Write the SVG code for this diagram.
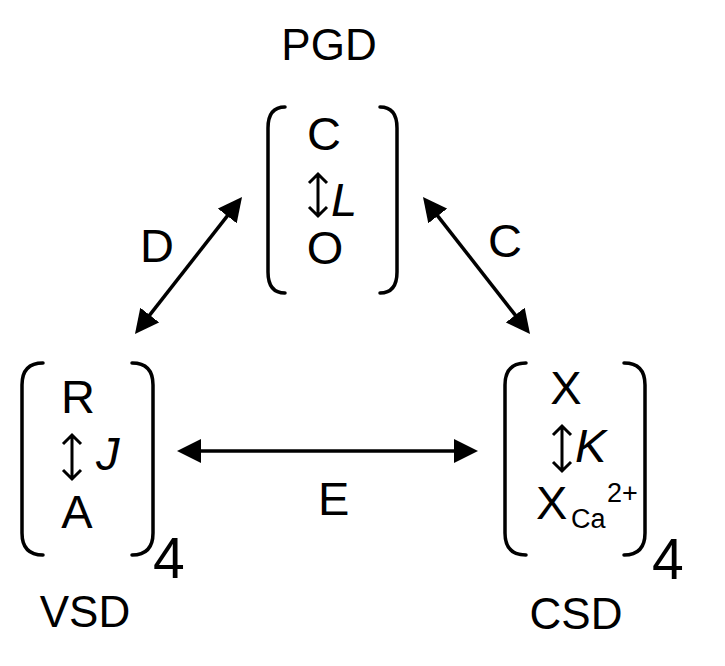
<svg xmlns="http://www.w3.org/2000/svg" width="725" height="666" viewBox="0 0 725 666">
<style>
text{font-family:"Liberation Sans",Arial,sans-serif;fill:#000}
.t{font-size:47px}
.lb{font-size:44px}
.it{font-size:47px;font-style:italic}
.n{font-size:57px}
.s{font-size:27px}
.br{fill:none;stroke:#000;stroke-width:3.5;stroke-linecap:round}
.ud{fill:none;stroke:#000;stroke-width:3;stroke-linejoin:miter}
.con{stroke:#000;stroke-width:3.5;fill:none;marker-start:url(#ah);marker-end:url(#ah)}
</style>
<defs>
<marker id="ah" markerUnits="userSpaceOnUse" markerWidth="24" markerHeight="24" refX="4" refY="12" orient="auto-start-reverse" viewBox="0 0 24 24">
<path d="M0,0 L24,12 L0,24 z" fill="#000"/>
</marker>
</defs>
<rect width="725" height="666" fill="#fff"/>
<g id="connectors">
<line class="con" x1="147.3" y1="318.2" x2="229.7" y2="212.8"/>
<line class="con" x1="435.3" y1="212.8" x2="517.7" y2="318.2"/>
<line class="con" x1="197" y1="451" x2="458" y2="451"/>
<text class="t" x="140" y="262">D</text>
<text class="t" x="488" y="257">C</text>
<text class="t" x="318" y="515">E</text>
</g>
<g id="PGD">
<text class="lb" x="329" y="60" text-anchor="middle">PGD</text>
<path class="br" d="M285 107 Q268 107 268 128 L268 272 Q268 293 285 293"/>
<path class="br" d="M380 107 Q397 107 397 128 L397 272 Q397 293 380 293"/>
<text class="t" x="324" y="150" text-anchor="middle">C</text>
<path class="ud" d="M318 174 L318 216 M309 183 L318 174 L327 183 M309 207 L318 216 L327 207"/>
<text class="it" x="331" y="216">L</text>
<text class="t" x="325" y="264" text-anchor="middle">O</text>
</g>
<g id="VSD">
<path class="br" d="M43 363 Q22 363 22 385 L22 533 Q22 555 43 555"/>
<path class="br" d="M132 363 Q153 363 153 385 L153 533 Q153 555 132 555"/>
<text class="t" x="78" y="413" text-anchor="middle">R</text>
<path class="ud" d="M72 435 L72 479 M63 444 L72 435 L81 444 M63 470 L72 479 L81 470"/>
<text class="it" x="96" y="470">J</text>
<text class="t" x="77" y="528" text-anchor="middle">A</text>
<text class="n" x="153" y="578">4</text>
<text class="lb" x="85" y="627" text-anchor="middle">VSD</text>
</g>
<g id="CSD">
<path class="br" d="M526 363 Q505 363 505 385 L505 533 Q505 555 526 555"/>
<path class="br" d="M624 363 Q645 363 645 385 L645 533 Q645 555 624 555"/>
<text class="t" x="566" y="404" text-anchor="middle">X</text>
<path class="ud" d="M562 426 L562 471 M553 435 L562 426 L571 435 M553 462 L562 471 L571 462"/>
<text class="it" x="575" y="462">K</text>
<text class="t" x="536" y="519">X</text>
<text class="s" x="571" y="528">Ca</text>
<text class="s" x="607" y="502">2+</text>
<text class="n" x="652" y="579">4</text>
<text class="lb" x="576" y="629" text-anchor="middle">CSD</text>
</g>
</svg>
